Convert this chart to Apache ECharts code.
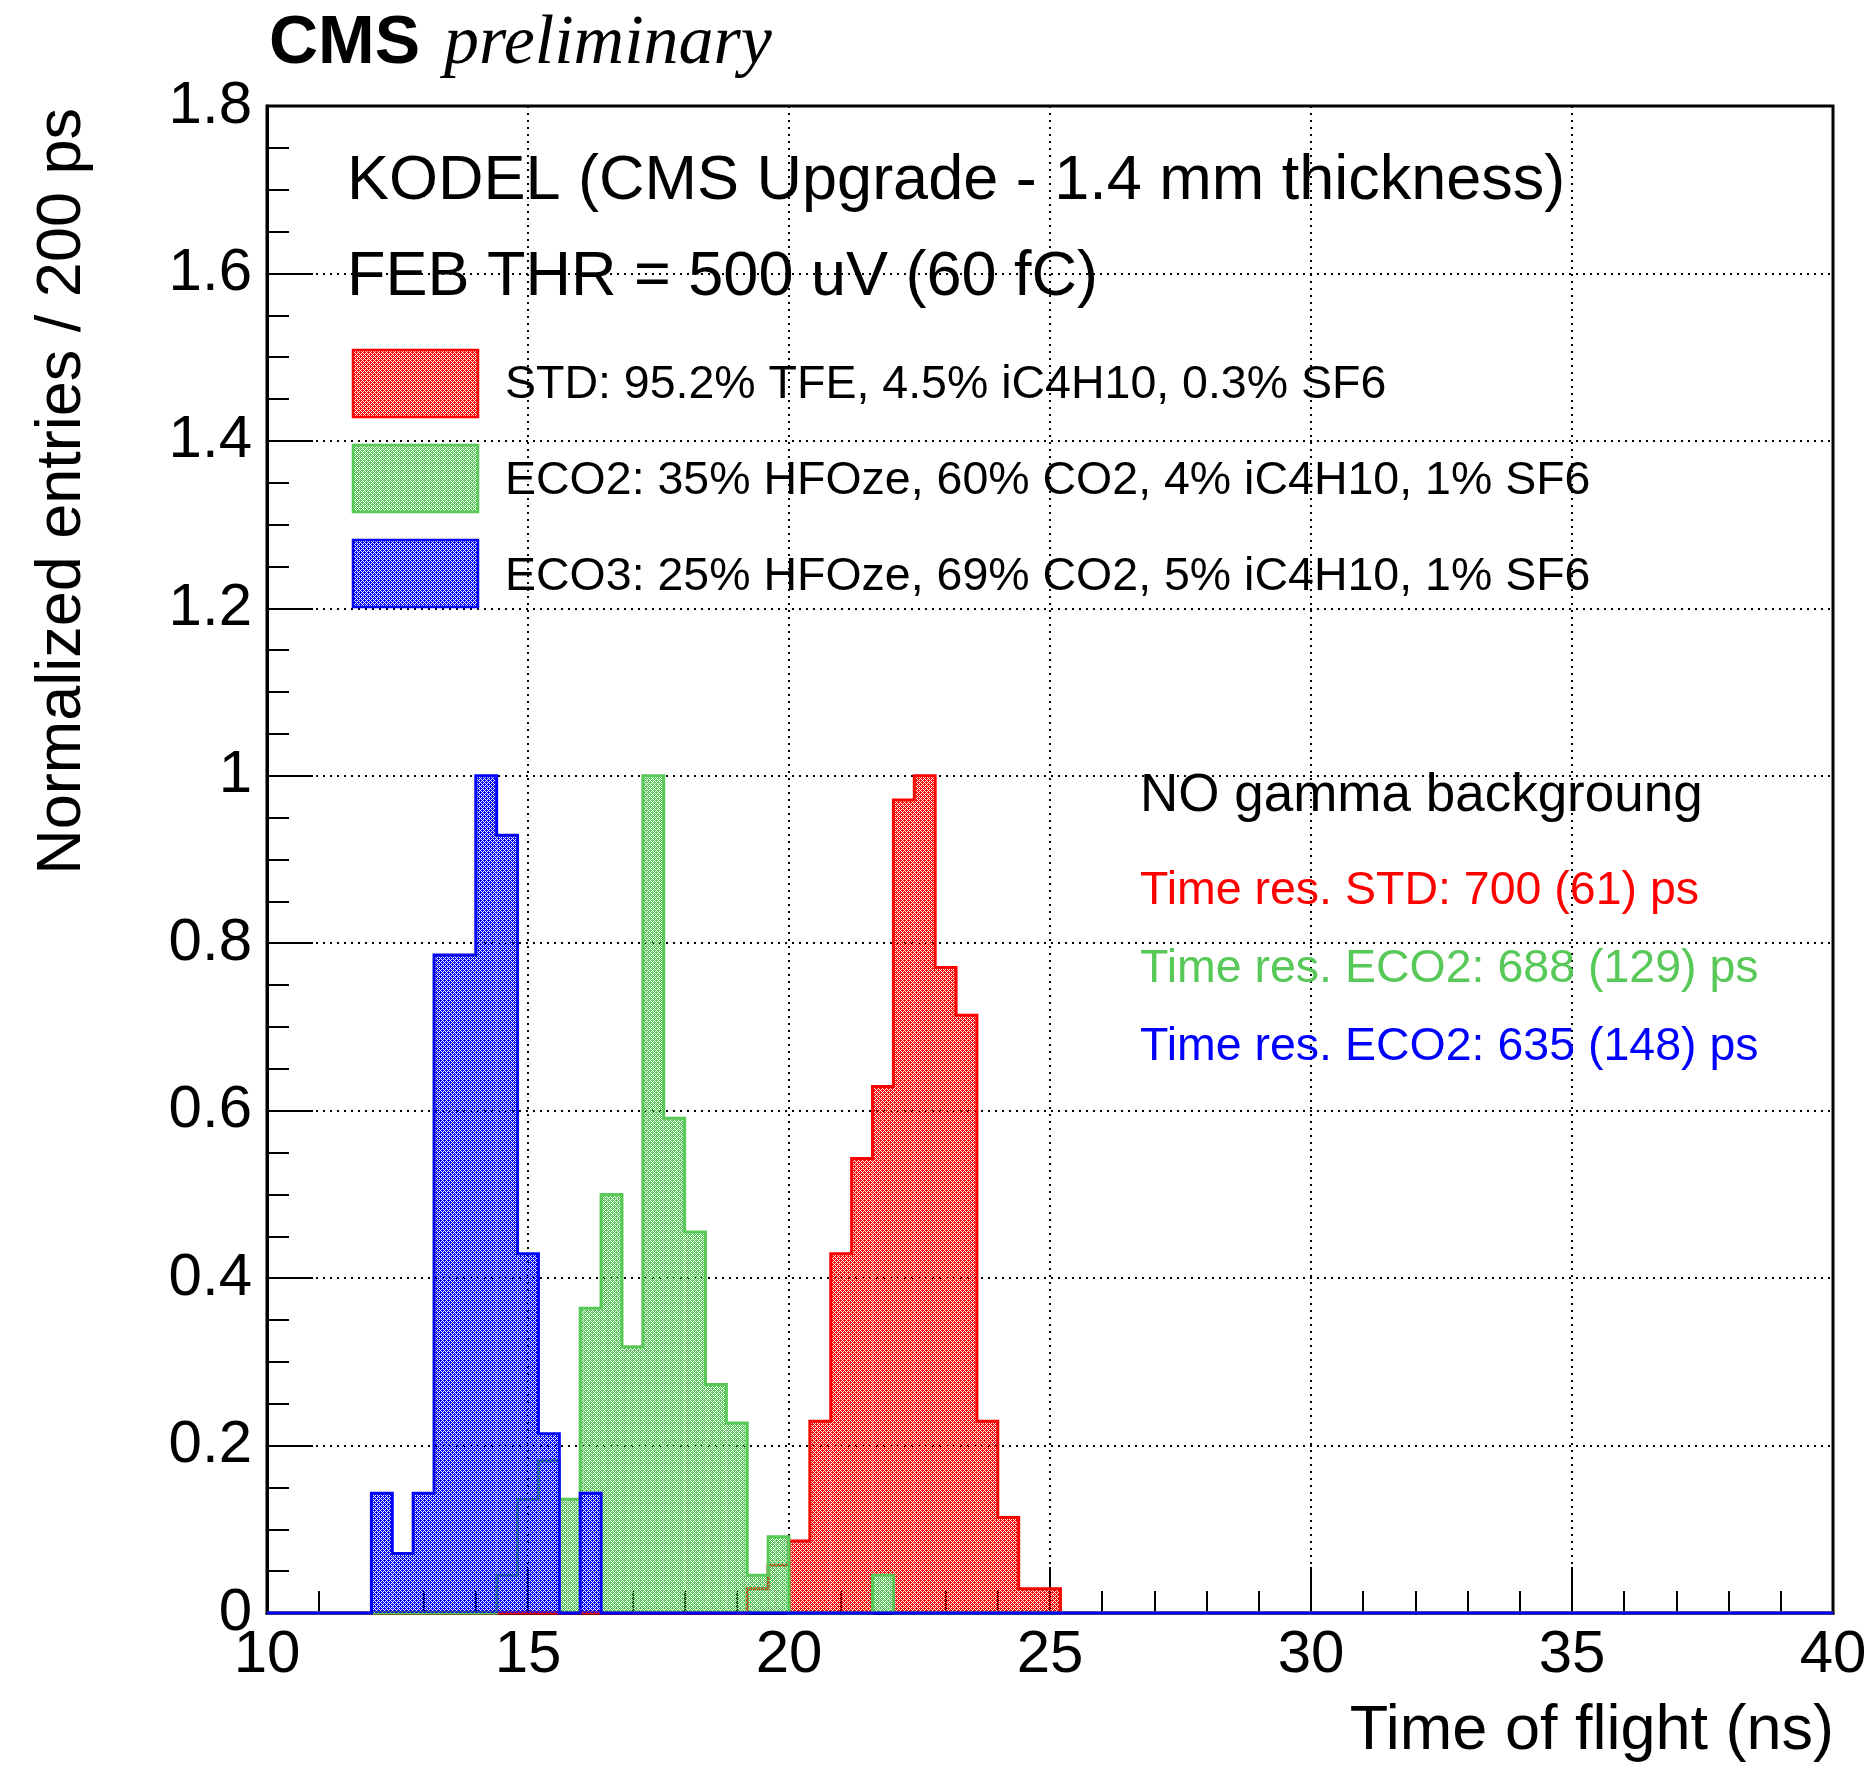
<!DOCTYPE html>
<html>
<head>
<meta charset="utf-8">
<script src="https://cdn.jsdelivr.net/npm/echarts@6/dist/echarts.min.js"></script>
<style>
  html, body { margin: 0; padding: 0; background: #ffffff; }
  #chart { width: 1875px; height: 1767px; }
</style>
</head>
<body>
<div id="chart"></div>
<script>
// Time-of-flight histograms, 0.4 ns bins, normalised to the peak bin
const binWidth = 0.4;

const stdStart = 19.2;
const stdValues = [0.029, 0.057, 0.086, 0.229, 0.429, 0.543, 0.629, 0.971, 1.0, 0.771, 0.714, 0.229, 0.114, 0.029, 0.029];

const eco2Start = 14.4;
const eco2Values = [0.045, 0.136, 0.182, 0.136, 0.364, 0.5, 0.318, 1.0, 0.591, 0.455, 0.273, 0.227, 0.045, 0.091, 0, 0, 0, 0, 0.045];

const eco3Start = 12.0;
const eco3Values = [0.143, 0.071, 0.143, 0.786, 0.786, 1.0, 0.929, 0.429, 0.214, 0, 0.143];

const xTicks = [10, 15, 20, 25, 30, 35, 40];
const yTicks = [0, 0.2, 0.4, 0.6, 0.8, 1, 1.2, 1.4, 1.6, 1.8];

const legendLabels = [
  'STD: 95.2% TFE, 4.5% iC4H10, 0.3% SF6',
  'ECO2: 35% HFOze, 60% CO2, 4% iC4H10, 1% SF6',
  'ECO3: 25% HFOze, 69% CO2, 5% iC4H10, 1% SF6'
];
const resLabels = [
  'Time res. STD: 700 (61) ps',
  'Time res. ECO2: 688 (129) ps',
  'Time res. ECO2: 635 (148) ps'
];

const RED = '#ff0000';
const GREEN = '#58c858';
const BLUE = '#0000ff';
const FONT = '"Liberation Sans", Arial, Helvetica, sans-serif';

// dotted hatch fill, similar to a ROOT fill pattern
function makePattern(color) {
  const c = document.createElement('canvas');
  c.width = 4; c.height = 4;
  const g = c.getContext('2d');
  g.fillStyle = color;
  g.fillRect(0, 0, 4, 4);
  g.clearRect(1, 1, 1, 1);
  g.clearRect(3, 3, 1, 1);
  g.clearRect(1, 3, 1, 1);
  g.clearRect(3, 1, 1, 1);
  g.clearRect(0, 2, 1, 1);
  g.clearRect(2, 0, 1, 1);
  return { image: c, repeat: 'repeat' };
}

function binData(start, values) {
  return values.map((v, i) => [start + i * binWidth, start + (i + 1) * binWidth, v]);
}

function outlineData(start, values) {
  const pts = [[xTicks[0], 0]];
  values.forEach((v, i) => pts.push([start + i * binWidth, v]));
  pts.push([start + values.length * binWidth, 0]);
  pts.push([xTicks[xTicks.length - 1], 0]);
  return pts;
}

function fillSeries(start, values, color, z) {
  const pattern = makePattern(color);
  return {
    type: 'custom',
    z: z,
    clip: false,
    data: binData(start, values),
    renderItem: function (params, api) {
      const x0 = api.value(0), x1 = api.value(1), v = api.value(2);
      if (v <= 0) return null;
      const p0 = api.coord([x0, v]);
      const p1 = api.coord([x1, 0]);
      return {
        type: 'rect',
        shape: { x: p0[0], y: p0[1], width: p1[0] - p0[0], height: p1[1] - p0[1] },
        style: { fill: pattern, stroke: null }
      };
    }
  };
}

function outlineSeries(start, values, color, z) {
  return {
    type: 'line',
    z: z,
    step: 'end',
    clip: false,
    showSymbol: false,
    silent: true,
    data: outlineData(start, values),
    lineStyle: { color: color, width: 3, join: 'miter' }
  };
}

function textEl(x, y, text, size, color, opts) {
  opts = opts || {};
  return {
    type: 'text',
    x: x, y: y,
    rotation: opts.rotation || 0,
    z: 100,
    style: {
      text: text,
      font: (opts.style || 'normal') + ' ' + (opts.weight || 'normal') + ' ' + size + 'px ' + (opts.family || FONT),
      fill: color,
      align: opts.align || 'left',
      verticalAlign: 'middle'
    }
  };
}

const chart = echarts.init(document.getElementById('chart'), null, { renderer: 'canvas' });

const legendColors = [RED, GREEN, BLUE];
const legendY = [350, 445, 540];
const legendTextY = [385, 481, 577];
const resY = [891, 969, 1047];

const elements = [];
elements.push(textEl(269, 44, 'CMS', 68, '#000', { weight: 'bold' }));
elements.push(textEl(444, 45, 'preliminary', 70, '#000', { style: 'italic', family: '"Liberation Serif", "Times New Roman", serif' }));
elements.push(textEl(347, 182, 'KODEL (CMS Upgrade - 1.4 mm thickness)', 63, '#000'));
elements.push(textEl(347, 278, 'FEB THR = 500 uV (60 fC)', 63, '#000'));
legendLabels.forEach((t, i) => {
  elements.push({
    type: 'rect', z: 100,
    shape: { x: 353, y: legendY[i], width: 125, height: 67 },
    style: { fill: makePattern(legendColors[i]), stroke: legendColors[i], lineWidth: 2.5 }
  });
  elements.push(textEl(505, legendTextY[i], t, 46.5, '#000'));
});
elements.push(textEl(1140, 796, 'NO gamma backgroung', 53, '#000'));
resLabels.forEach((t, i) => elements.push(textEl(1140, resY[i], t, 46.5, legendColors[i])));
elements.push(textEl(1834, 1732, 'Time of flight (ns)', 63, '#000', { align: 'right' }));
elements.push(textEl(63, 108, 'Normalized entries / 200 ps', 63, '#000', { align: 'right', rotation: Math.PI / 2 }));

const option = {
  backgroundColor: '#ffffff',
  animation: false,
  grid: {
    left: 267, right: 42, top: 106, bottom: 154,
    show: true, borderColor: '#000', borderWidth: 3, backgroundColor: 'transparent'
  },
  xAxis: {
    type: 'value',
    min: xTicks[0], max: xTicks[xTicks.length - 1], interval: 5,
    axisLine: { show: true, lineStyle: { color: '#000', width: 3 } },
    axisTick: { show: true, inside: true, length: 46, lineStyle: { color: '#000', width: 2 } },
    minorTick: { show: true, splitNumber: 5, length: 22, lineStyle: { color: '#000', width: 2 } },
    splitLine: { show: true, lineStyle: { color: '#000', width: 2, type: [2, 5] } },
    axisLabel: { color: '#000', fontSize: 60, fontFamily: FONT, margin: 12, showMinLabel: true, showMaxLabel: true }
  },
  yAxis: {
    type: 'value',
    min: yTicks[0], max: yTicks[yTicks.length - 1], interval: 0.2,
    axisLine: { show: true, lineStyle: { color: '#000', width: 3 } },
    axisTick: { show: true, inside: true, length: 46, lineStyle: { color: '#000', width: 2 } },
    minorTick: { show: true, splitNumber: 4, length: 22, lineStyle: { color: '#000', width: 2 } },
    splitLine: { show: true, lineStyle: { color: '#000', width: 2, type: [2, 5] } },
    axisLabel: { color: '#000', fontSize: 60, fontFamily: FONT, margin: 15 }
  },
  graphic: elements,
  series: [
    fillSeries(stdStart, stdValues, RED, 2),
    outlineSeries(stdStart, stdValues, RED, 3),
    fillSeries(eco2Start, eco2Values, GREEN, 4),
    outlineSeries(eco2Start, eco2Values, GREEN, 5),
    fillSeries(eco3Start, eco3Values, BLUE, 6),
    outlineSeries(eco3Start, eco3Values, BLUE, 7)
  ]
};

chart.setOption(option);
</script>
</body>
</html>
